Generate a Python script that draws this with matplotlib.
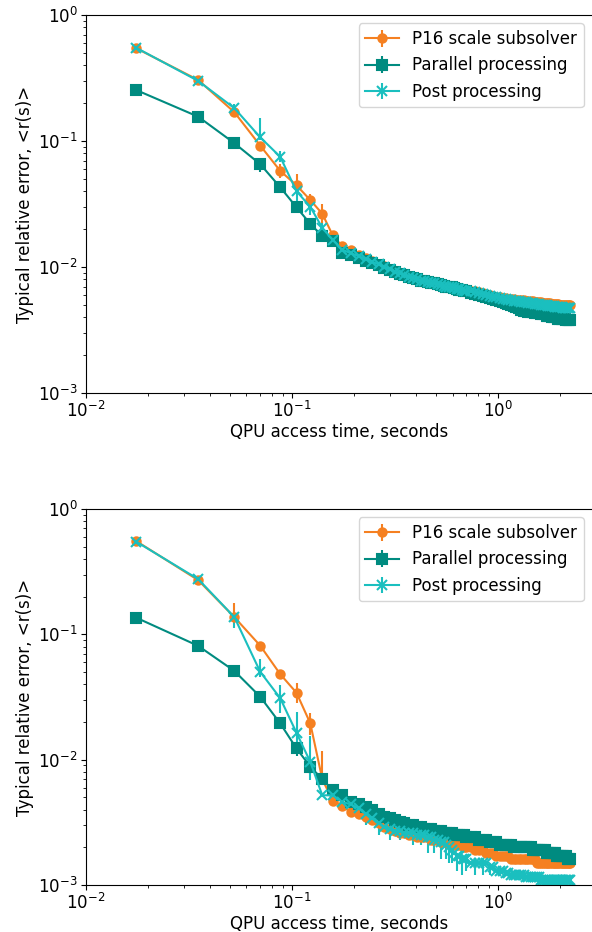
import numpy as np
import matplotlib
matplotlib.use('Agg')
import matplotlib.pyplot as plt

# QPU access time grid: 0.0175 s per step, every step up to 40, then every 2nd
steps = list(range(1, 41)) + list(range(42, 129, 2))
step_time = 0.0175

# ---- top panel ----
top_p16 = [0.545, 0.305, 0.169, 0.092, 0.058, 0.0445, 0.034, 0.0265, 0.0178, 0.0146,
           0.0136, 0.0125, 0.0118, 0.0112, 0.0106, 0.0101, 0.0097, 0.0093, 0.0090, 0.0087,
           0.0085, 0.0083, 0.0081, 0.0079, 0.0078, 0.0077, 0.0076, 0.0075, 0.0074, 0.0073,
           0.0072, 0.0071, 0.0070, 0.0070, 0.0069, 0.0068, 0.0068, 0.0067, 0.0067, 0.0066,
           0.0065, 0.0064, 0.0063, 0.0062, 0.0061, 0.0060, 0.0059, 0.0058, 0.0058, 0.0057,
           0.0057, 0.0056, 0.0056, 0.0056, 0.0055, 0.0055, 0.0055, 0.0055, 0.0054, 0.0054,
           0.0054, 0.0054, 0.0053, 0.0053, 0.0053, 0.0053, 0.0052, 0.0052, 0.0052, 0.0052,
           0.0052, 0.0051, 0.0051, 0.0051, 0.0051, 0.0051, 0.0050, 0.0050, 0.0050, 0.0050,
           0.0050, 0.0050, 0.0050, 0.0050]
top_par = [0.254, 0.156, 0.096, 0.0655, 0.043, 0.0298, 0.0220, 0.0176, 0.0162, 0.0130,
           0.0124, 0.0118, 0.0112, 0.0107, 0.0103, 0.0099, 0.0095, 0.0091, 0.0088, 0.0086,
           0.0084, 0.0082, 0.0080, 0.0078, 0.0077, 0.0076, 0.0075, 0.0074, 0.0073, 0.0072,
           0.0071, 0.0070, 0.0069, 0.0069, 0.0068, 0.0067, 0.0066, 0.0066, 0.0065, 0.0064,
           0.0062, 0.0061, 0.0060, 0.0059, 0.0058, 0.0057, 0.0056, 0.0055, 0.0054, 0.0053,
           0.0052, 0.0051, 0.0050, 0.0049, 0.0048, 0.0047, 0.0046, 0.0045, 0.0045, 0.0044,
           0.0044, 0.0044, 0.0043, 0.0043, 0.0043, 0.0042, 0.0042, 0.0042, 0.0041, 0.0041,
           0.0041, 0.0040, 0.0040, 0.0040, 0.0040, 0.0039, 0.0039, 0.0039, 0.0039, 0.0039,
           0.0038, 0.0038, 0.0038, 0.0038]
top_post = [0.550, 0.300, 0.182, 0.107, 0.075, 0.040, 0.030, 0.0205, 0.0164, 0.0137,
            0.0129, 0.0122, 0.0116, 0.0110, 0.0105, 0.0100, 0.0096, 0.0092, 0.0089, 0.0086,
            0.0084, 0.0082, 0.0080, 0.0078, 0.0077, 0.0076, 0.0075, 0.0074, 0.0073, 0.0072,
            0.0071, 0.0070, 0.0070, 0.0069, 0.0068, 0.0067, 0.0067, 0.0066, 0.0065, 0.0065,
            0.0064, 0.0063, 0.0062, 0.0061, 0.0060, 0.0059, 0.0058, 0.0058, 0.0057, 0.0056,
            0.0056, 0.0055, 0.0055, 0.0054, 0.0054, 0.0054, 0.0053, 0.0053, 0.0053, 0.0052,
            0.0052, 0.0052, 0.0051, 0.0051, 0.0051, 0.0050, 0.0050, 0.0050, 0.0050, 0.0049,
            0.0049, 0.0049, 0.0049, 0.0048, 0.0048, 0.0048, 0.0048, 0.0048, 0.0047, 0.0047,
            0.0047, 0.0047, 0.0047, 0.0047]

# error bars {step: (lower, upper)}
top_p16_err = {4: (0.006, 0.007), 5: (0.007, 0.008), 6: (0.0039, 0.0099),
               7: (0.0036, 0.0040), 8: (0.0054, 0.0053), 11: (0.001, 0.001)}
top_par_err = {4: (0.009, 0.003), 5: (0.003, 0.003)}
top_post_err = {3: (0.013, 0.014), 4: (0.006, 0.044), 5: (0.007, 0.0078),
                6: (0.0075, 0.0037), 7: (0.0042, 0.0058), 8: (0.0019, 0.002)}

# ---- bottom panel ----
bot_p16 = [0.556, 0.271, 0.137, 0.0813, 0.0482, 0.0342, 0.0195, 0.0070, 0.0047, 0.0043,
           0.0038, 0.0037, 0.0035, 0.0033, 0.0031, 0.0029, 0.0028, 0.0027, 0.0026, 0.0026,
           0.0025, 0.0025, 0.0024, 0.0024, 0.0024, 0.0024, 0.0023, 0.0023, 0.0023, 0.0022,
           0.0022, 0.0022, 0.0022, 0.0022, 0.0021, 0.0021, 0.0021, 0.0021, 0.0020, 0.0020,
           0.0020, 0.0019, 0.0019, 0.0019, 0.0018, 0.0018, 0.0018, 0.0017, 0.0017, 0.0017,
           0.0017, 0.0017, 0.0016, 0.0016, 0.0016, 0.0016, 0.0016, 0.0016, 0.0016, 0.0016,
           0.0016, 0.0016, 0.0016, 0.0015, 0.0015, 0.0015, 0.0015, 0.0015, 0.0015, 0.0015,
           0.0015, 0.0015, 0.0015, 0.0015, 0.0015, 0.0015, 0.0015, 0.0015, 0.0015, 0.0015,
           0.0015, 0.0015, 0.0015, 0.0015]
bot_par = [0.136, 0.081, 0.051, 0.0318, 0.0195, 0.0123, 0.0088, 0.0070, 0.0057, 0.0052,
           0.0046, 0.0044, 0.0042, 0.0040, 0.0037, 0.0035, 0.0034, 0.0033, 0.0032, 0.0031,
           0.0030, 0.0030, 0.0029, 0.0029, 0.0028, 0.0028, 0.0028, 0.0027, 0.0027, 0.0027,
           0.0026, 0.0026, 0.0026, 0.0026, 0.0025, 0.0025, 0.0025, 0.0025, 0.0025, 0.0024,
           0.0024, 0.0024, 0.0023, 0.0023, 0.0023, 0.0022, 0.0022, 0.0022, 0.0021, 0.0021,
           0.0021, 0.0021, 0.0021, 0.0020, 0.0020, 0.0020, 0.0020, 0.0020, 0.0020, 0.0020,
           0.0020, 0.0019, 0.0019, 0.0019, 0.0019, 0.0019, 0.0019, 0.0019, 0.0018, 0.0018,
           0.0018, 0.0018, 0.0018, 0.0018, 0.0017, 0.0017, 0.0017, 0.0017, 0.0017, 0.0017,
           0.0017, 0.0016, 0.0016, 0.0016]
bot_post = [0.550, 0.276, 0.137, 0.0503, 0.031, 0.0164, 0.0096, 0.0052, 0.0052, 0.0046,
            0.0044, 0.0041, 0.0037, 0.0034, 0.0031, 0.0029, 0.0028, 0.0027, 0.0027, 0.0026,
            0.0026, 0.0026, 0.0025, 0.0025, 0.0025, 0.0024, 0.0024, 0.0023, 0.0023, 0.0022,
            0.0022, 0.0021, 0.0020, 0.0019, 0.0018, 0.0017, 0.0017, 0.0016, 0.0016, 0.0016,
            0.0015, 0.0015, 0.0015, 0.0015, 0.0015, 0.0014, 0.0014, 0.0013, 0.0013, 0.0013,
            0.00125, 0.00125, 0.0012, 0.0012, 0.0012, 0.0012, 0.0012, 0.0012, 0.00115, 0.00115,
            0.00115, 0.00115, 0.00115, 0.00115, 0.00115, 0.0011, 0.0011, 0.0011, 0.0011, 0.0011,
            0.0011, 0.0011, 0.0011, 0.0011, 0.0011, 0.0011, 0.0011, 0.0011, 0.0011, 0.0011,
            0.0011, 0.0011, 0.0011, 0.0011]

bot_p16_err = {3: (0.01, 0.040), 6: (0.006, 0.0067), 7: (0.0038, 0.0039), 8: (0.0, 0.0047)}
bot_par_err = {4: (0.003, 0.003), 6: (0.0015, 0.0015), 7: (0.0011, 0.0011),
               12: (0.0006, 0.0002), 14: (0.0006, 0.0002)}
bot_post_err = {3: (0.025, 0.012), 4: (0.005, 0.013), 5: (0.0076, 0.0084),
                6: (0.0037, 0.0077), 7: (0.0027, 0.006),
                11: (0.0008, 0.0002), 13: (0.0007, 0.0002), 15: (0.0006, 0.0002),
                17: (0.0005, 0.0002), 19: (0.0004, 0.0001),
                22: (0.0005, 0.0001), 24: (0.0004, 0.0001), 26: (0.0006, 0.0001),
                28: (0.0005, 0.0001), 30: (0.0006, 0.0001), 32: (0.0005, 0.0001),
                33: (0.0005, 0.0001), 34: (0.0004, 0.0001), 36: (0.0004, 0.0001),
                38: (0.0004, 0.0001), 40: (0.0003, 0.0001), 44: (0.0003, 0.0001),
                48: (0.0003, 0.0001), 52: (0.0002, 0.0001)}

labels = ['P16 scale subsolver', 'Parallel processing', 'Post processing']
colors = ['#f58021', '#008b80', '#1abfbf']
markers = ['o', 's', 'x']
msizes = [6, 7, 7]

x = step_time * np.array(steps)


def make_err(err, n):
    lo = np.zeros(n)
    hi = np.zeros(n)
    for k, (l, h) in err.items():
        i = steps.index(k)
        lo[i] = l
        hi[i] = h
    return [lo, hi]


def draw(ax, series, errs):
    for y, e, lab, c, m, ms in zip(series, errs, labels, colors, markers, msizes):
        ax.errorbar(x, y, yerr=make_err(e, len(x)), fmt='-' + m, color=c,
                    ms=ms, lw=1.5, elinewidth=1.5, capsize=0, mew=1.5, label=lab)
    ax.set_xscale('log')
    ax.set_yscale('log')
    ax.set_xlim(1e-2, 2.85)
    ax.set_ylim(1e-3, 1)
    ax.spines['right'].set_visible(False)
    ax.tick_params(labelsize=12, pad=2.5)
    ax.set_xlabel('QPU access time, seconds', fontsize=12, labelpad=1)
    ax.set_ylabel('Typical relative error, <r(s)>', fontsize=12, labelpad=3)
    ax.legend(loc='upper right', fontsize=12)


fig = plt.figure(figsize=(5.92, 9.32), dpi=100)
ax1 = fig.add_axes([0.1453, 0.5783, 0.8547, 0.4056])
ax2 = fig.add_axes([0.1453, 0.0504, 0.8547, 0.4034])
draw(ax1, [top_p16, top_par, top_post], [top_p16_err, top_par_err, top_post_err])
draw(ax2, [bot_p16, bot_par, bot_post], [bot_p16_err, bot_par_err, bot_post_err])

fig.savefig('out.png', dpi=100)
